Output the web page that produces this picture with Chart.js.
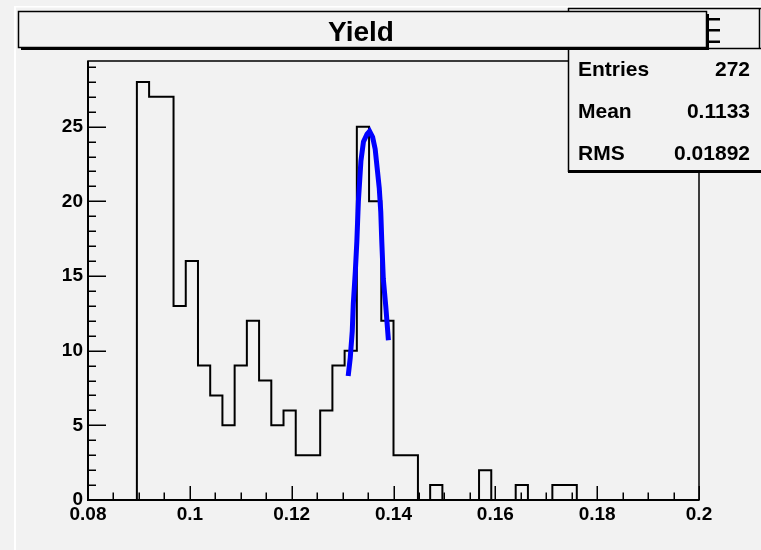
<!DOCTYPE html>
<html>
<head>
<meta charset="utf-8">
<title>Yield</title>
<script src="https://cdn.jsdelivr.net/npm/chart.js@4.4.1/dist/chart.umd.min.js"></script>
<style>
  html, body { margin: 0; padding: 0; background: #f2f2f2; }
  canvas { display: block; }
</style>
</head>
<body>
<canvas id="yieldChart" width="761" height="550"></canvas>
<script>
// histogram: 50 bins from 0.08 to 0.2
const xMin = 0.08;
const xMax = 0.2;
const binWidth = 0.0024;
const binCounts = [
    0, 0, 0, 0, 28, 27, 27, 13, 16, 9,
    7, 5, 9, 12, 8, 5, 6, 3, 3, 6,
    9, 10, 25, 20, 12, 3, 3, 0, 1, 0,
    0, 0, 2, 0, 0, 1, 0, 0, 1, 1,
    0, 0, 0, 0, 0, 0, 0, 0, 0, 0
];

// gaussian fit curve
const fitX = [0.1311, 0.1315, 0.1319, 0.1321, 0.1325, 0.1328, 0.1331, 0.1336, 0.1341, 0.1348,
              0.1353, 0.1359, 0.1364, 0.1368, 0.1372, 0.1375, 0.1377, 0.1380, 0.1385, 0.1390];
const fitY = [8.3, 9.5, 11.3, 13.1, 15.3, 17.3, 20.0, 22.7, 24.0, 24.5,
              24.7, 24.3, 23.5, 22.2, 20.9, 19.3, 17.3, 14.8, 12.9, 10.7];

const yMax = 29.4;
const xTickStep = 0.02;
const yTickStep = 5;

const titleText = "Yield";
const statLabels = ["Entries", "Mean", "RMS"];
const statValues = ["272", "0.1133", "0.01892"];

const FONT = "'Liberation Sans', Arial, Helvetica, sans-serif";

// histogram outline points (left edge of every bin, then the closing edge)
const histPoints = binCounts.map((c, i) => ({ x: xMin + i * binWidth, y: c }));
histPoints.push({ x: xMax, y: 0 });
const fitPoints = fitX.map((x, i) => ({ x: x, y: fitY[i] }));

// frame, inside ticks, stats box and title box
const rootDecor = {
    id: "rootDecor",
    afterDraw(chart) {
        const ctx = chart.ctx;
        const a = chart.chartArea;
        const xs = chart.scales.x;
        const ys = chart.scales.y;
        ctx.save();

        // pad edge highlight
        ctx.fillStyle = "#ffffff";
        ctx.fillRect(14, 6, 2, 544);
        ctx.fillRect(14, 6, 747, 1.5);

        // frame
        ctx.strokeStyle = "#000";
        ctx.lineWidth = 1.5;
        ctx.strokeRect(a.left, a.top, a.right - a.left, a.bottom - a.top);
        ctx.lineWidth = 2;
        ctx.beginPath();
        ctx.moveTo(a.left, a.top);
        ctx.lineTo(a.left, a.bottom);
        ctx.lineTo(a.right, a.bottom);
        ctx.stroke();

        // y ticks (minor every 1, major every 5)
        ctx.lineWidth = 1.5;
        ctx.beginPath();
        for (let v = 0; v <= Math.floor(yMax); v++) {
            const y = Math.round(ys.getPixelForValue(v)) + 0.25;
            const len = v % 5 === 0 ? 18 : 8;
            ctx.moveTo(a.left, y);
            ctx.lineTo(a.left + len, y);
        }
        // x ticks (minor every 0.005, major every 0.02)
        for (let k = 0; k <= 24; k++) {
            const x = Math.round(xs.getPixelForValue(xMin + k * 0.005)) + 0.25;
            const len = k % 4 === 0 ? 14 : 7.5;
            ctx.moveTo(x, a.bottom);
            ctx.lineTo(x, a.bottom - len);
        }
        ctx.stroke();

        // stats box
        ctx.fillStyle = "#f2f2f2";
        ctx.fillRect(568, 8, 200, 164);
        ctx.fillStyle = "#000";
        ctx.fillRect(568, 170, 200, 3);
        ctx.lineWidth = 1.5;
        ctx.beginPath();
        ctx.moveTo(568.5, 8);
        ctx.lineTo(568.5, 172);
        ctx.moveTo(568, 8.5);
        ctx.lineTo(761, 8.5);
        ctx.moveTo(568, 48.5);
        ctx.lineTo(761, 48.5);
        ctx.moveTo(759.5, 8);
        ctx.lineTo(759.5, 48);
        ctx.stroke();
        // stubs peeking out beside the title box
        ctx.fillRect(708, 18, 12, 2.5);
        ctx.fillRect(708, 29, 12, 2.5);
        ctx.fillRect(708, 40.5, 12, 2.5);

        ctx.font = "bold 21px " + FONT;
        ctx.textBaseline = "alphabetic";
        statLabels.forEach((label, i) => {
            const base = 76 + i * 42;
            ctx.textAlign = "left";
            ctx.fillText(label, 578, base);
            ctx.textAlign = "right";
            ctx.fillText(statValues[i], 750, base);
        });

        // title box with shadow
        ctx.fillStyle = "#000";
        ctx.fillRect(21, 14, 688, 36);
        ctx.fillStyle = "#f2f2f2";
        ctx.fillRect(18, 11, 688, 36);
        ctx.lineWidth = 1.5;
        ctx.strokeRect(18.5, 11.5, 688, 36);
        ctx.fillStyle = "#000";
        ctx.font = "bold 28px " + FONT;
        ctx.textAlign = "center";
        ctx.fillText(titleText, 361, 41);

        ctx.restore();
    }
};

document.addEventListener("DOMContentLoaded", () => {
    const ctx = document.getElementById("yieldChart").getContext("2d");
    new Chart(ctx, {
        type: "line",
        data: {
            datasets: [
                {
                    label: "fit",
                    data: fitPoints,
                    borderColor: "#0000ff",
                    borderWidth: 5,
                    pointRadius: 0,
                    fill: false,
                    tension: 0,
                    order: 0
                },
                {
                    label: "Yield",
                    data: histPoints,
                    stepped: true,
                    borderColor: "#000000",
                    borderWidth: 2,
                    pointRadius: 0,
                    fill: false,
                    order: 1
                }
            ]
        },
        options: {
            responsive: false,
            animation: false,
            events: [],
            layout: { padding: { left: 0, top: 61, right: 62, bottom: 0 } },
            plugins: {
                legend: { display: false },
                tooltip: { enabled: false },
                title: { display: false }
            },
            scales: {
                x: {
                    type: "linear",
                    min: xMin,
                    max: xMax,
                    grid: { display: false, drawTicks: false },
                    border: { display: false },
                    afterFit: scale => { scale.height = 50; },
                    ticks: {
                        stepSize: xTickStep,
                        padding: 3,
                        color: "#000",
                        maxRotation: 0,
                        autoSkip: false,
                        font: { family: FONT, size: 19, weight: "bold" },
                        callback: v => String(+v.toFixed(2))
                    }
                },
                y: {
                    min: 0,
                    max: yMax,
                    grid: { display: false, drawTicks: false },
                    border: { display: false },
                    afterFit: scale => { scale.width = 88; },
                    ticks: {
                        stepSize: yTickStep,
                        includeBounds: false,
                        padding: 5,
                        color: "#000",
                        font: { family: FONT, size: 19, weight: "bold" }
                    }
                }
            }
        },
        plugins: [rootDecor]
    });
});
</script>
</body>
</html>
